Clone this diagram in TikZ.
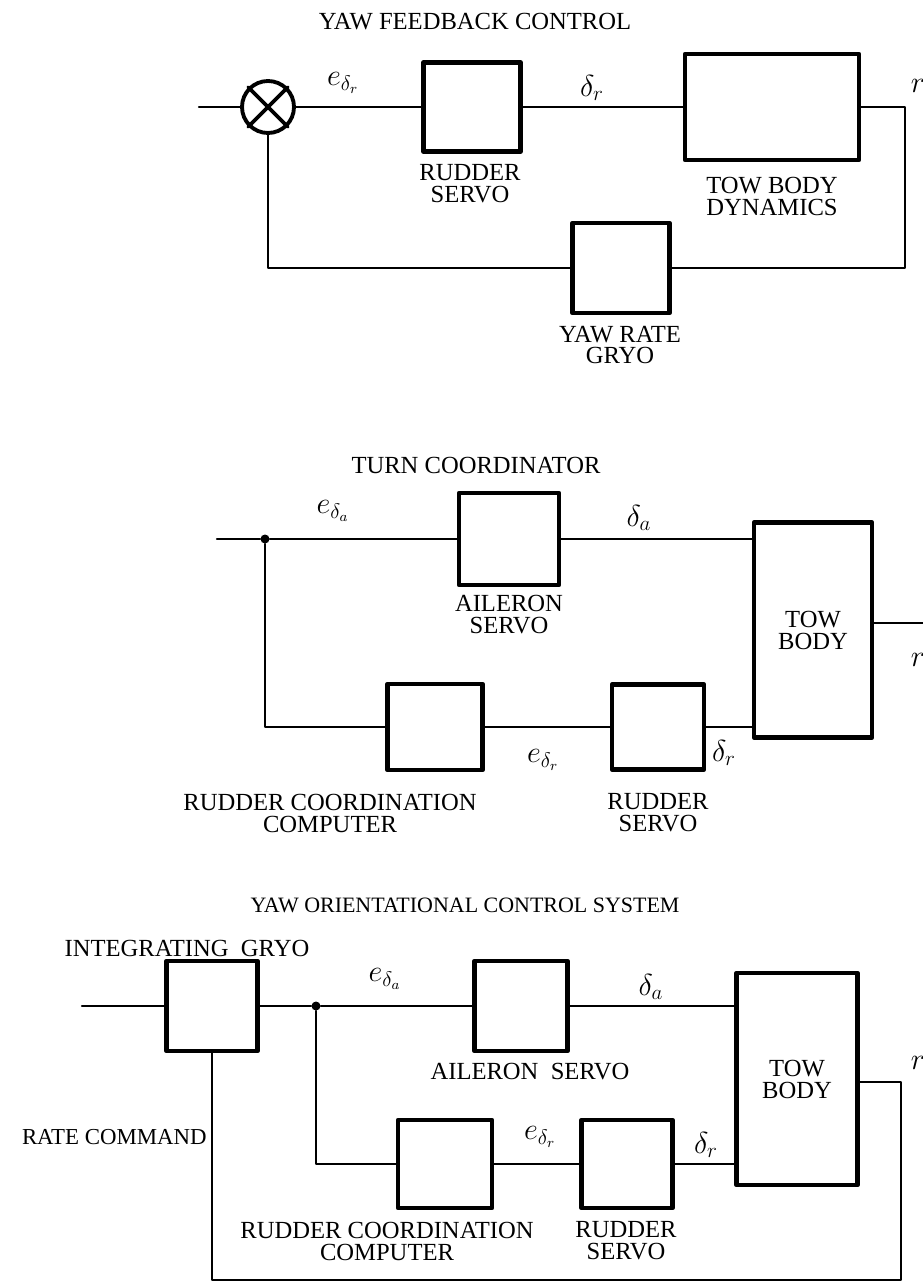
\documentclass[tikz,border=0pt]{standalone}
\usepackage{fontspec}
\setmainfont{Liberation Serif}
\usetikzlibrary{positioning,calc}

\begin{document}
\begin{tikzpicture}[x=0.02cm, y=-0.02cm, line cap=round, line join=round,
        blk/.style={draw, line width=2.6pt, minimum width=1.9cm, minimum height=1.8cm, inner sep=0pt},
        wire/.style={line width=1.3pt},
        lbl/.style={font=\fontsize{14}{12.5}\selectfont, align=center, inner sep=0pt},
        sig/.style={font=\fontsize{17}{17}\selectfont, inner sep=0pt},
        dot/.style={circle, fill, inner sep=0pt, minimum size=0.18cm}]
        \fill[white] (0,0) rectangle (922,1283);
        \useasboundingbox (0,0) rectangle (922,1283);

        % yaw feedback control
        \node[lbl] (t1) at (475,22) {YAW FEEDBACK CONTROL};
        \coordinate (in1) at (199,107);
        \node[draw, circle, line width=2.2pt, minimum size=1.04cm, inner sep=0pt] (sum) at (268,107) {};
        \draw[line width=2.2pt] (sum.north west) -- (sum.south east) (sum.north east) -- (sum.south west);
        \node[blk, minimum width=1.94cm, minimum height=1.78cm] (rs1) at (472,107) {};
        \node[blk, minimum width=3.48cm, minimum height=2.12cm] (tbd) at (772,107) {};
        \node[blk, minimum width=1.94cm] (yrg) at (621,268) {};
        \coordinate (fb1) at (905,107);
        \draw[wire] (in1) -- (sum) -- (rs1) -- (tbd) -- (fb1) |- (yrg) -| (sum);
        \node[sig] (e1) at (343,83) {$e_{\delta_r}$};
        \node[sig] (d1) at (592,88) {$\delta_r$};
        \node[sig] (r1) at (918,86) {$r$};
        \node[lbl] (rs1l) at (470,184) {RUDDER\\SERVO};
        \node[lbl] (tbdl) at (772,196) {TOW BODY\\DYNAMICS};
        \node[lbl] (yrgl) at (620,345) {YAW RATE\\GRYO};

        % turn coordinator
        \node[lbl] (t2) at (476,465) {TURN COORDINATOR};
        \coordinate (in2) at (217,539);
        \node[dot] (jn2) at (265,539) {};
        \node[blk, minimum width=2cm, minimum height=1.84cm] (ail2) at (509,539) {};
        \node[blk, lbl, minimum width=2.36cm, minimum height=4.3cm] (tow2) at (813,630) {TOW\\BODY};
        \node[blk, minimum width=1.9cm, minimum height=1.72cm] (rcc2) at (435,727) {};
        \node[blk, minimum width=1.84cm, minimum height=1.7cm] (rs2) at (658,727) {};
        \coordinate (out2) at (930,623);
        \draw[wire] (in2) -- (jn2) -- (ail2) -- (ail2.east -| tow2.west);
        \draw[wire] (jn2) |- (rcc2) -- (rs2) -- (rs2.east -| tow2.west);
        \draw[wire] (tow2.east |- out2) -- (out2);
        \node[sig] (e2a) at (333,511) {$e_{\delta_a}$};
        \node[sig] (d2a) at (639,518) {$\delta_a$};
        \node[sig] (e2r) at (543,760) {$e_{\delta_r}$};
        \node[sig] (d2r) at (724,753) {$\delta_r$};
        \node[sig] (r2) at (918,660) {$r$};
        \node[lbl] (ail2l) at (509,615) {AILERON\\SERVO};
        \node[lbl] (rcc2l) at (330,813) {RUDDER COORDINATION\\COMPUTER};
        \node[lbl] (rs2l) at (658,813) {RUDDER\\SERVO};

        % yaw orientational control system
        \node[lbl, font=\fontsize{12.5}{12.5}\selectfont] (t3) at (465,905) {YAW ORIENTATIONAL CONTROL SYSTEM};
        \node[lbl] (igl) at (187,948) {INTEGRATING\ \ GRYO};
        \coordinate (in3) at (82,1006);
        \node[blk, minimum width=1.82cm, minimum height=1.8cm] (ig) at (212,1006) {};
        \node[dot] (jn3) at (316,1006) {};
        \node[blk, minimum width=1.86cm, minimum height=1.8cm] (ail3) at (521,1006) {};
        \node[blk, lbl, minimum width=2.42cm, minimum height=4.24cm] (tow3) at (797,1079) {TOW\\BODY};
        \node[blk, minimum width=1.88cm, minimum height=1.76cm] (rcc3) at (445,1164) {};
        \node[blk, minimum width=1.82cm, minimum height=1.76cm] (rs3) at (627,1164) {};
        \coordinate (fb3) at (901,1082);
        \coordinate (bt3) at (901,1280);
        \draw[wire] (in3) -- (ig) -- (jn3) -- (ail3) -- (ail3.east -| tow3.west);
        \draw[wire] (jn3) |- (rcc3) -- (rs3) -- (rs3.east -| tow3.west);
        \draw[wire] (tow3.east |- fb3) -- (fb3) -- (bt3) -| (ig);
        \node[sig] (e3a) at (385,979) {$e_{\delta_a}$};
        \node[sig] (d3a) at (651,987) {$\delta_a$};
        \node[sig] (e3r) at (540,1137) {$e_{\delta_r}$};
        \node[sig] (d3r) at (706,1145) {$\delta_r$};
        \node[sig] (r3) at (918,1063) {$r$};
        \node[lbl, font=\fontsize{13}{13}\selectfont, anchor=east] (rc) at (207,1137) {RATE COMMAND};
        \node[lbl] (ail3l) at (530,1072) {AILERON\ \ SERVO};
        \node[lbl] (rcc3l) at (387,1241) {RUDDER COORDINATION\\COMPUTER};
        \node[lbl] (rs3l) at (626,1241) {RUDDER\\SERVO};
\end{tikzpicture}
\end{document}
